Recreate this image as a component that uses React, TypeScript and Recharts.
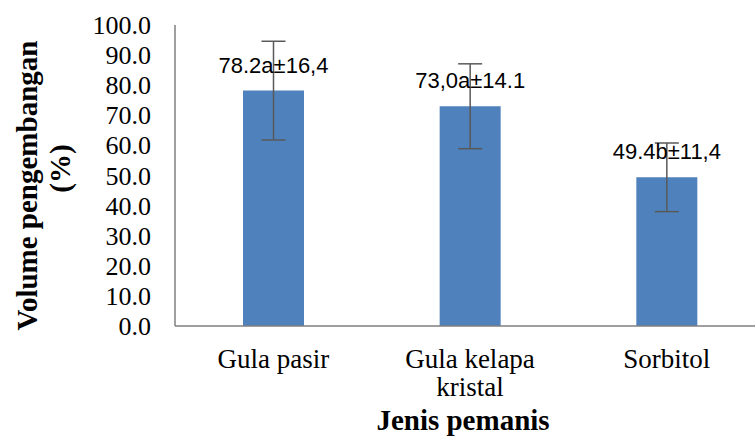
import React from 'react';
import { BarChart, Bar, XAxis, YAxis, ErrorBar, LabelList, Label } from 'recharts';

const categories = ['Gula pasir', 'Gula kelapa\nkristal', 'Sorbitol'];
const means = [78.2, 73.0, 49.4];
const sds = [16.4, 14.1, 11.4];
const notes = ['78.2a±16,4', '73,0a±14.1', '49.4b±11,4'];
const yTicks = [0, 10, 20, 30, 40, 50, 60, 70, 80, 90, 100];

const SERIF = '"Liberation Serif", "Times New Roman", serif';
const SANS = '"Liberation Sans", Arial, sans-serif';
const AXIS_COLOR = '#7f7f7f';

const data = categories.map((name, i) => ({
  name,
  mean: means[i],
  sd: sds[i],
  note: notes[i],
}));

// category names may wrap onto a second line
const CategoryTick = ({ x, y, payload }: any) => {
  const lines = String(payload.value).split('\n');
  return (
    <g>
      {lines.map((line, i) => (
        <text
          key={i}
          x={x}
          y={y + 40 + i * 28}
          textAnchor="middle"
          style={{ fontFamily: SERIF, fontSize: 27 }}
          fill="#000"
        >
          {line}
        </text>
      ))}
    </g>
  );
};

const ValueTick = ({ x, y, payload }: any) => (
  <text
    x={x}
    y={y}
    dy={9}
    textAnchor="end"
    style={{ fontFamily: SERIF, fontSize: 26 }}
    fill="#000"
  >
    {Number(payload.value).toFixed(1)}
  </text>
);

const renderNote = (props: any) => {
  const { x, y, width, value } = props;
  return (
    <text
      x={x + width / 2}
      y={y - 18}
      textAnchor="middle"
      style={{ fontFamily: SANS, fontSize: 22 }}
      fill="#000"
    >
      {value}
    </text>
  );
};

const YTitle = (props: any) => {
  const { viewBox } = props;
  const cy = viewBox.y + viewBox.height / 2 + 10;
  const x1 = 27;
  const x2 = 60;
  const cy2 = cy - 17;
  return (
    <g style={{ fontFamily: SERIF, fontSize: 29, fontWeight: 'bold' }} fill="#000">
      <text
        x={x1}
        y={cy}
        textAnchor="middle"
        dominantBaseline="central"
        transform={`rotate(-90, ${x1}, ${cy})`}
      >
        Volume pengembangan
      </text>
      <text
        x={x2}
        y={cy2}
        textAnchor="middle"
        dominantBaseline="central"
        transform={`rotate(-90, ${x2}, ${cy2})`}
      >
        (%)
      </text>
    </g>
  );
};

const XTitle = (props: any) => {
  const { viewBox } = props;
  return (
    <text
      x={viewBox.x + viewBox.width / 2 - 7}
      y={viewBox.y + 104}
      textAnchor="middle"
      style={{ fontFamily: SERIF, fontSize: 29, fontWeight: 'bold' }}
      fill="#000"
    >
      Jenis pemanis
    </text>
  );
};

const App: React.FC = () => {
  return (
    <div
      style={{
        position: 'absolute',
        left: 0,
        top: 0,
        width: 755,
        height: 439,
        overflow: 'hidden',
        background: '#fff',
      }}
    >
      <BarChart
        width={770}
        height={439}
        data={data}
        margin={{ top: 25, right: 5, bottom: 0, left: 0 }}
        barSize={61}
      >
        <XAxis
          dataKey="name"
          height={113}
          interval={0}
          tickLine={false}
          tickSize={0}
          tick={<CategoryTick />}
          axisLine={{ stroke: AXIS_COLOR, strokeWidth: 1.5 }}
        >
          <Label content={<XTitle />} />
        </XAxis>
        <YAxis
          width={175}
          domain={[0, 100]}
          ticks={yTicks}
          interval={0}
          tickLine={false}
          tickSize={0}
          tickMargin={24}
          tick={<ValueTick />}
          axisLine={{ stroke: AXIS_COLOR, strokeWidth: 1.5 }}
        >
          <Label content={<YTitle />} />
        </YAxis>
        <Bar dataKey="mean" fill="#4f81bd" isAnimationActive={false}>
          <LabelList dataKey="note" content={renderNote} />
          <ErrorBar dataKey="sd" width={12} stroke="#595959" strokeWidth={1.5} direction="y" />
        </Bar>
      </BarChart>
    </div>
  );
};

export default App;
